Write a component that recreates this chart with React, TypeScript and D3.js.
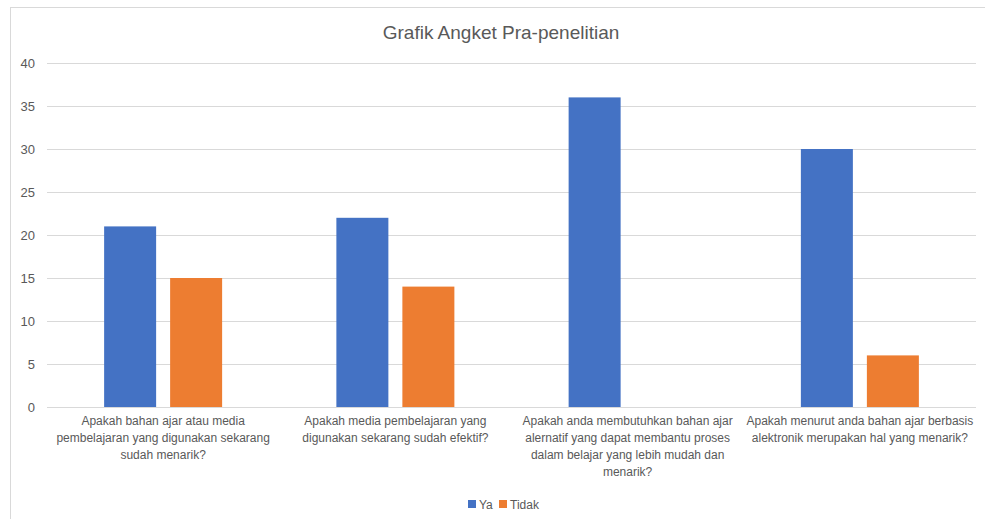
import { useEffect, useRef } from "react"
import * as d3 from "d3"

const categories = [
  ["Apakah bahan ajar atau media", "pembelajaran yang digunakan sekarang", "sudah menarik?"],
  ["Apakah media pembelajaran yang", "digunakan sekarang sudah efektif?"],
  ["Apakah anda membutuhkan bahan ajar", "alernatif yang dapat membantu proses", "dalam belajar yang lebih mudah dan", "menarik?"],
  ["Apakah menurut anda bahan ajar berbasis", "alektronik merupakan hal yang menarik?"],
]
const ya = [21, 22, 36, 30]
const tidak = [15, 14, 0, 6]
const yTicks = [0, 5, 10, 15, 20, 25, 30, 35, 40]
const seriesNames = ["Ya", "Tidak"]
const colors = ["#4472C4", "#ED7D31"]

export default function App() {
  const svgRef = useRef<SVGSVGElement>(null)

  useEffect(() => {
    if (!svgRef.current) return
    const svg = d3.select(svgRef.current)
    svg.selectAll("*").remove()

    const font = "'Liberation Sans', Arial, sans-serif"
    const textColor = "#595959"
    const left = 47
    const right = 976
    const top = 63
    const bottom = 407

    // chart frame
    svg.append("rect").attr("x", 10.5).attr("y", 7.5).attr("width", 1000).attr("height", 600)
      .attr("fill", "#fff").attr("stroke", "#d9d9d9").attr("stroke-width", 1)

    svg.append("text").attr("x", 501).attr("y", 39).attr("text-anchor", "middle")
      .attr("font-family", font).attr("font-size", 19).attr("fill", textColor)
      .text("Grafik Angket Pra-penelitian")

    const x0 = d3.scaleBand<number>().domain(d3.range(categories.length)).range([left, right]).paddingInner(0).paddingOuter(0)
    const y = d3.scaleLinear().domain([0, 40]).range([bottom, top])

    // gridlines
    svg.append("g").selectAll("line").data(yTicks).enter().append("line")
      .attr("x1", left).attr("x2", right)
      .attr("y1", (d) => Math.round(y(d)) + 0.5).attr("y2", (d) => Math.round(y(d)) + 0.5)
      .attr("stroke", "#d9d9d9").attr("stroke-width", 1)

    svg.append("g").selectAll("text").data(yTicks).enter().append("text")
      .attr("x", 35).attr("y", (d) => y(d) + 4.5).attr("text-anchor", "end")
      .attr("font-family", font).attr("font-size", 13).attr("fill", textColor)
      .text((d) => d)

    // bars
    const barW = 52
    const gap = 14
    const groups = [ya, tidak]
    groups.forEach((vals, si) => {
      svg.append("g").selectAll("rect").data(vals).enter().append("rect")
        .attr("x", (_, i) => x0(i)! + x0.bandwidth() / 2 - barW - gap / 2 + si * (barW + gap))
        .attr("y", (d) => y(d))
        .attr("width", barW)
        .attr("height", (d) => bottom - y(d))
        .attr("fill", colors[si])
    })

    // category labels
    categories.forEach((lines, i) => {
      const t = svg.append("text").attr("text-anchor", "middle")
        .attr("font-family", font).attr("font-size", 12).attr("fill", textColor)
      lines.forEach((line, j) => {
        t.append("tspan").attr("x", x0(i)! + x0.bandwidth() / 2).attr("y", 425 + j * 17).text(line)
      })
    })

    // legend
    const legend = svg.append("g").attr("transform", "translate(468, 500)")
    const offsets = [0, 31]
    seriesNames.forEach((name, i) => {
      const g = legend.append("g").attr("transform", `translate(${offsets[i]}, 0)`)
      g.append("rect").attr("width", 8).attr("height", 8).attr("fill", colors[i])
      g.append("text").attr("x", 11).attr("y", 9).attr("font-family", font).attr("font-size", 12)
        .attr("fill", textColor).text(name)
    })
  }, [])

  return (
    <svg ref={svgRef} width={985} height={519} style={{ position: "absolute", left: 0, top: 0 }} />
  )
}
